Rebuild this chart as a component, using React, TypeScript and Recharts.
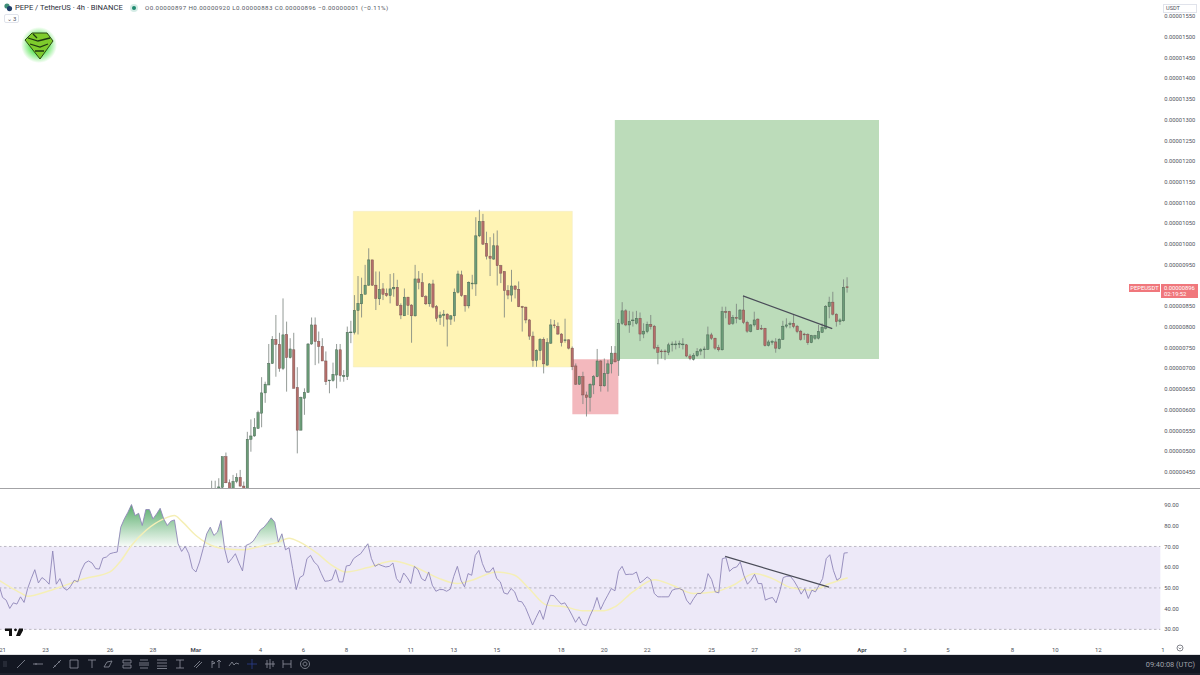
import {
  Area,
  Bar,
  ComposedChart,
  Line,
  ReferenceArea,
  ReferenceLine,
  XAxis,
  YAxis,
} from 'recharts';

const FONT = 'Roboto, "Liberation Sans", sans-serif';
const AXIS_TEXT = '#4f525c';
const SLOT_COUNT = 326;

// one slot per 4h candle, counted from one candle before Feb 21
const firstCandleSlot = 59;
const opens = [
  405, 408, 408, 413, 487, 424, 402, 427, 437, 416, 408, 529, 537, 555, 592, 641, 660, 712, 770, 758,
  700, 782, 726, 745, 654, 551, 628, 642, 759, 805, 765, 753, 718, 671, 671, 684, 745, 680, 680, 787,
  787, 840, 856, 879, 901, 962, 901, 868, 892, 881, 876, 892, 896, 852, 827, 872, 853, 827, 916, 907,
  873, 856, 904, 849, 823, 828, 831, 819, 827, 884, 926, 876, 851, 904, 904, 1020, 1055, 1002, 971, 964,
  996, 948, 934, 888, 877, 899, 891, 849, 848, 817, 778, 719, 743, 770, 708, 761, 805, 801, 783, 767,
  769, 749, 706, 662, 680, 636, 630, 660, 680, 718, 658, 688, 711, 737, 719, 809, 839, 805, 815, 809,
  821, 783, 789, 806, 802, 751, 742, 742, 739, 757, 757, 758, 757, 757, 730, 722, 731, 742, 745, 746,
  781, 773, 750, 745, 837, 837, 809, 823, 819, 841, 811, 789, 805, 819, 797, 797, 755, 763, 764, 748,
  770, 802, 806, 809, 802, 790, 783, 782, 762, 773, 773, 787, 797, 849, 860, 831, 813, 815, 897,
];
const highs = [
  429, 429, 435, 487, 497, 432, 443, 447, 455, 427, 547, 577, 580, 598, 679, 668, 759, 778, 829, 786,
  869, 813, 773, 786, 703, 632, 652, 761, 823, 823, 789, 773, 741, 672, 714, 759, 759, 696, 801, 815,
  877, 923, 919, 950, 990, 962, 934, 934, 906, 893, 928, 930, 914, 857, 893, 873, 855, 950, 935, 930,
  877, 906, 914, 853, 837, 841, 833, 829, 893, 936, 936, 877, 910, 926, 1065, 1083, 1073, 1030, 1017, 1026,
  1033, 950, 934, 901, 938, 901, 910, 851, 849, 819, 789, 746, 773, 775, 773, 819, 817, 811, 785, 820,
  770, 753, 712, 682, 692, 644, 664, 684, 747, 720, 724, 720, 754, 754, 819, 860, 843, 839, 837, 839,
  835, 809, 813, 829, 805, 757, 746, 746, 762, 765, 767, 767, 773, 759, 735, 737, 749, 749, 753, 801,
  786, 774, 757, 849, 849, 839, 829, 856, 843, 875, 815, 807, 837, 821, 805, 798, 769, 769, 773, 773,
  815, 821, 813, 831, 805, 793, 786, 785, 781, 781, 805, 809, 853, 873, 885, 833, 821, 915, 920,
];
const lows = [
  400, 398, 400, 405, 423, 400, 398, 423, 415, 400, 400, 499, 535, 555, 558, 617, 660, 711, 680, 692,
  696, 644, 724, 652, 495, 551, 588, 642, 757, 708, 712, 718, 660, 640, 668, 652, 668, 668, 672, 761,
  782, 782, 823, 879, 899, 899, 841, 853, 865, 873, 857, 873, 851, 819, 827, 829, 762, 825, 891, 872,
  853, 849, 845, 813, 805, 801, 753, 805, 813, 881, 873, 837, 845, 891, 875, 1017, 998, 963, 923, 962,
  900, 906, 823, 867, 861, 869, 848, 789, 809, 769, 704, 704, 720, 688, 707, 759, 797, 781, 753, 762,
  746, 696, 660, 660, 614, 584, 596, 638, 679, 644, 656, 644, 688, 714, 682, 805, 802, 786, 801, 806,
  766, 773, 785, 794, 746, 710, 724, 720, 732, 741, 746, 749, 746, 727, 720, 719, 728, 732, 724, 745,
  769, 745, 741, 743, 821, 805, 805, 809, 817, 807, 786, 787, 801, 793, 793, 753, 753, 757, 738, 746,
  769, 797, 797, 797, 785, 767, 769, 757, 761, 769, 770, 786, 794, 821, 828, 801, 805, 813, 883,
];
const closes = [
  408, 406, 414, 487, 424, 405, 427, 437, 416, 408, 529, 537, 557, 593, 641, 662, 712, 770, 758, 700,
  781, 726, 747, 652, 551, 630, 642, 759, 805, 765, 753, 718, 668, 672, 686, 745, 683, 683, 787, 788,
  840, 857, 879, 901, 962, 901, 869, 891, 879, 876, 892, 896, 852, 829, 872, 852, 827, 916, 908, 873,
  856, 904, 848, 821, 829, 831, 819, 827, 884, 928, 876, 851, 908, 906, 1020, 1055, 1000, 971, 966, 996,
  948, 930, 888, 877, 899, 891, 849, 848, 817, 778, 719, 743, 770, 711, 762, 805, 803, 783, 762, 769,
  749, 704, 662, 680, 636, 630, 662, 680, 718, 658, 688, 711, 737, 716, 809, 839, 805, 813, 817, 821,
  783, 790, 806, 801, 749, 739, 741, 741, 757, 759, 759, 760, 759, 730, 724, 732, 741, 745, 747, 781,
  773, 749, 745, 837, 835, 807, 823, 821, 841, 811, 790, 805, 817, 794, 795, 755, 764, 765, 749, 770,
  802, 805, 808, 801, 789, 770, 781, 762, 779, 779, 789, 799, 849, 860, 831, 813, 817, 896, 896,
];

const rsiValues = [
  51.3, 45.4, 44.1, 40.1, 42.8, 42.2, 45.7, 43, 49.7, 54.5, 58.8, 52.4, 55, 53.7, 51.8, 67.8, 51.8, 54.5, 50, 48.9,
  50.8, 53.7, 52.9, 58.5, 62, 63, 62, 59.3, 59.1, 64.4, 64.9, 66.5, 67, 67.3, 79.3, 83.3, 86.5, 90.2, 84.9, 86,
  80.1, 87.8, 87.8, 83.3, 85.7, 88.4, 83.3, 80.1, 82.2, 82.8, 71.3, 67.6, 70, 66.5, 59.3, 57.7, 62.5, 68.9, 76.1, 79.3,
  75.3, 76.9, 82.5, 68.9, 62, 64.1, 66.5, 62, 58.2, 70.5, 71.3, 72.6, 75.3, 78, 79.3, 81.4, 83.8, 81.7, 72.1, 76.1,
  68.4, 69.4, 59.3, 49.2, 55, 56.1, 64.1, 65.7, 62.5, 60.9, 56.9, 53.2, 53.4, 54, 58.8, 52.9, 52.9, 60.6, 60.9, 64.1,
  65.4, 66.5, 68.9, 71.3, 64.1, 60.4, 61.4, 60.7, 60.1, 60.4, 62, 54.5, 52.4, 57.2, 55, 52.1, 60.4, 58.8, 54.5, 53.4,
  57.7, 51.3, 48.4, 49.2, 49.2, 48.4, 49.4, 55.6, 60.4, 53.7, 50.5, 56.9, 56.1, 65.7, 68.1, 61.7, 57.7, 57.7, 59.8, 54.5,
  52.9, 47.6, 47, 49.7, 48.1, 43.6, 43.3, 40.6, 36.4, 32.1, 35.8, 39.3, 34.8, 41.7, 46.5, 46.2, 44.1, 42.2, 42.8, 40.1,
  36.9, 33.4, 36.1, 32.4, 31.8, 36.4, 40.1, 45.4, 39.6, 43.3, 46.5, 49.7, 48.6, 58, 60.4, 56.4, 56.6, 56.6, 57.7, 52.4,
  53.7, 55.3, 54, 47.3, 45.7, 45.7, 45.7, 45.7, 48.9, 49.5, 49.7, 48.9, 44.1, 42, 44.9, 47.3, 47.3, 49.2, 56.9, 54,
  48.1, 47.6, 64.1, 64.6, 58, 59.6, 60.1, 62.5, 56.1, 51.8, 53.7, 56.6, 52.1, 52.1, 44.1, 44.9, 45.4, 42.8, 48.1, 55,
  55.6, 55.6, 53.4, 50.5, 47, 49.7, 44.9, 48.9, 48.1, 51.3, 54.5, 64.1, 66, 58.5, 53.7, 55, 66.8, 67,
];

// moving average of the RSI, read at the slots where its shape turns
const rsiMaSlots = [
  0, 3, 6, 8, 14, 19, 24, 31, 34, 37, 41, 46, 49, 51, 55, 58, 63, 68, 74, 78, 81, 84, 89, 93, 97, 103,
  110, 115, 120, 123, 128, 132, 139, 144, 148, 153, 158, 163, 169, 172, 177, 183, 188, 194, 200, 205, 211,
  216, 221, 227, 232, 237,
];
const rsiMaValues = [
  53.7, 50.5, 47.6, 46, 48.6, 51.6, 54.5, 57.7, 63, 70.5, 77.7, 83.3, 84.9, 82.2, 75.3, 71.6, 68.9, 68.4, 70.5, 72.1,
  74, 72.1, 66.5, 60.9, 57.7, 59.8, 63, 60.9, 56.9, 54.5, 52.1, 53.7, 57.7, 56.1, 49.7, 41.7, 40.9, 39, 39, 40.9, 48.1,
  54, 51.3, 47.3, 48.1, 51.3, 56.9, 54.5, 50.2, 48.9, 52.1, 54.9,
];

const priceTicks = [
  450, 500, 550, 600, 650, 700, 750, 800, 850, 900, 950, 1000, 1050, 1100, 1150, 1200, 1250, 1300, 1350, 1400, 1450,
  1500, 1550,
];
const rsiTicks = [30, 40, 50, 60, 70, 80, 90];
const rsiLevels = [30, 50, 70];
const timeSlots = [1, 13, 31, 43, 55, 73, 85, 97, 115, 127, 139, 157, 169, 181, 199, 211, 223, 241, 253, 265, 283, 295, 307, 325];
const timeLabels = ['21', '23', '26', '28', 'Mar', '4', '6', '8', '11', '13', '15', '18', '20', '22', '25', '27', '29', 'Apr', '3', '5', '8', '10', '12', '1'];

const rows = Array.from({ length: SLOT_COUNT }, (_, slot) => {
  const c = slot - firstCandleSlot;
  const maIndex = rsiMaSlots.indexOf(slot);
  const rsi = rsiValues[slot];
  return {
    slot,
    open: opens[c],
    high: highs[c],
    low: lows[c],
    close: closes[c],
    rsi,
    rsiMa: maIndex >= 0 ? rsiMaValues[maIndex] : null,
    overbought: rsi === undefined ? null : [70, Math.max(rsi, 70)],
  };
});

function Candle(props: any) {
  const { x, y, width, height, payload } = props;
  if (payload.open === undefined || !height) return null;
  const perUnit = height / (payload.high - payload.low);
  const up = payload.close >= payload.open;
  const top = y + (payload.high - Math.max(payload.open, payload.close)) * perUnit;
  const bottom = y + (payload.high - Math.min(payload.open, payload.close)) * perUnit;
  const mid = x + width / 2;
  return (
    <g>
      <line x1={mid} x2={mid} y1={y} y2={y + height} stroke="#79827c" strokeWidth={0.8} />
      <rect
        x={mid - 1.15}
        y={top}
        width={2.3}
        height={Math.max(bottom - top, 0.8)}
        fill={up ? '#6c9c78' : '#b56e6a'}
        stroke={up ? '#44614e' : '#74504d'}
        strokeWidth={0.45}
      />
    </g>
  );
}

function TimeTick({ x, y, payload }: any) {
  const label = timeLabels[timeSlots.indexOf(payload.value)];
  const bold = label === 'Mar' || label === 'Apr';
  return (
    <text x={x} y={y + 10} textAnchor="middle" fontSize={6} fontFamily={FONT} fontWeight={bold ? 700 : 400} fill={AXIS_TEXT}>
      {label}
    </text>
  );
}

const toolX = [21, 38, 57, 74, 92, 108, 127, 144, 162, 180, 198, 216, 234, 252, 270, 287, 305];
const toolPaths = [
  'M1 9 L9 1',
  'M0 5 H10 M3 4 v2',
  'M1 9 L9 1 M2 7 h2 M6 3 h2',
  'M1 1 H9 V9 H1 Z',
  'M1 1 H9 M5 1 V9',
  'M1 8 H6 L9 2 L4 3 Z',
  'M1 1 H9 V4 H1 Z M1 6 H9 V9 H1 Z',
  'M1 1 H9 M0 4 H10 M0 6 H10 M1 9 H9',
  'M0 1 H10 M0 4 H10 M0 7 H10 M0 9.5 H10',
  'M1 1 H9 M5 1 V9 M1 9 H9',
  'M1 8 L7 2 M3 9 L9 3',
  'M1 9 V2 L4 4 L1 5 M8 9 V1 M6 3 L8 1 L10 3',
  'M0 7 L3 3 L5 6 L7 4 L10 5',
  'M5 0 V10 M0 5 H10',
  'M2 1 V9 M5 0 V10 M8 2 V8 M0 5 H10',
  'M1 1 V9 M9 1 V9 M1 5 H9',
  'M5 0.5 A4.5 4.5 0 1 0 5.01 0.5 M5 3 A2 2 0 1 0 5.01 3',
];

function Toolbar() {
  return (
    <div style={{ position: 'absolute', left: 0, top: 655, width: 1200, height: 20, background: '#131722' }}>
      <div style={{ position: 'absolute', left: 0, top: 18, width: 1200, height: 2, background: '#1e222d' }} />
      <svg width={330} height={18} style={{ position: 'absolute', left: 0, top: 0 }}>
        <path d="M4 6 v6 M6 6 v6" stroke="#3a3e4a" strokeWidth={1} />
        {toolX.map((x, i) => (
          <path
            key={x}
            d={toolPaths[i]}
            transform={`translate(${x - 5} 4)`}
            fill="none"
            stroke={i === 13 ? '#2b3f8f' : '#8f939e'}
            strokeWidth={0.8}
          />
        ))}
      </svg>
      <div style={{ position: 'absolute', right: 5, top: 5, fontFamily: FONT, fontSize: 7.4, color: '#a0a3ab' }}>
        09:40:08 (UTC)
      </div>
    </div>
  );
}

function Header() {
  return (
    <>
      <svg width={60} height={70} style={{ position: 'absolute', left: 0, top: 0 }}>
        <defs>
          <radialGradient id="logo-glow">
            <stop offset="40%" stopColor="#3de03a" stopOpacity={0.9} />
            <stop offset="100%" stopColor="#3de03a" stopOpacity={0} />
          </radialGradient>
        </defs>
        <circle cx={7} cy={6} r={2.6} fill="#3f8f78" />
        <circle cx={9.5} cy={8.6} r={2.6} fill="#1f3f6a" />
        <circle cx={39} cy={45} r={18} fill="url(#logo-glow)" />
        <path d="M32 33 H47 L53 41 L40 59 L25 40 Z" fill="#7ecb2c" stroke="#2c4a16" strokeWidth={1} />
        <path d="M28 38 L38 41 L50 38 M30 44 L40 47 L48 44 M35 51 H44 M33 34 L37 38" stroke="#1f3a12" strokeWidth={1.3} fill="none" />
      </svg>
      <div style={{ position: 'absolute', left: 15, top: 2.5, fontFamily: FONT, fontSize: 7.6, color: '#2a2e39', whiteSpace: 'nowrap' }}>
        PEPE / TetherUS · 4h · BINANCE
      </div>
      <svg width={10} height={10} style={{ position: 'absolute', left: 128.5, top: 2.5 }}>
        <circle cx={5} cy={5} r={4} fill="#d5ece6" />
        <circle cx={5} cy={5} r={2} fill="#1f8a70" />
      </svg>
      <div style={{ position: 'absolute', left: 145, top: 3.5, fontFamily: FONT, fontSize: 6.2, color: '#555963', whiteSpace: 'nowrap', letterSpacing: 0.4 }}>
        O0.00000897 H0.00000920 L0.00000883 C0.00000896 −0.00000001 (−0.11%)
      </div>
      <div
        style={{
          position: 'absolute',
          left: 4,
          top: 14,
          width: 15,
          height: 9,
          boxSizing: 'border-box',
          border: '1px solid #e0e3eb',
          borderRadius: 2,
          fontFamily: FONT,
          fontSize: 6,
          lineHeight: '7px',
          color: '#4f525c',
          textAlign: 'center',
        }}
      >
        ⌄ 3
      </div>
      <div
        style={{
          position: 'absolute',
          left: 1163,
          top: 4,
          width: 34,
          height: 9,
          background: '#fff',
          border: '1px solid #e0e3eb',
          fontFamily: FONT,
          fontSize: 5.6,
          lineHeight: '7px',
          color: '#4f525c',
          paddingLeft: 2,
          boxSizing: 'border-box',
        }}
      >
        USDT
      </div>
    </>
  );
}

function PriceLabel() {
  const base = {
    position: 'absolute' as const,
    background: '#f0777c',
    color: '#fff',
    fontFamily: FONT,
    fontSize: 5.8,
    whiteSpace: 'nowrap' as const,
  };
  return (
    <>
      <div style={{ ...base, left: 1129, top: 284, width: 31, height: 8, lineHeight: '8px', textAlign: 'center' }}>PEPEUSDT</div>
      <div style={{ ...base, left: 1161, top: 284, width: 37, height: 13.5, lineHeight: '6.6px', paddingLeft: 3, boxSizing: 'border-box', paddingTop: 0.5 }}>
        0.00000896
        <br />
        02:19:52
      </div>
    </>
  );
}

function TvLogo() {
  return (
    <svg width={18} height={10} style={{ position: 'absolute', left: 5, top: 627 }}>
      <path d="M0 1.5 H7 V9 H4 V4 H0 Z M10.5 1.5 A1.4 1.4 0 1 1 10.49 1.5 M14 1.5 H19 L15 9 H11 Z" fill="#111" />
    </svg>
  );
}

export default function App() {
  return (
    <div style={{ position: 'absolute', left: 0, top: 0, width: 1200, height: 675, overflow: 'hidden', background: '#fff' }}>
      <div style={{ position: 'absolute', left: -1, top: 0 }}>
        <ComposedChart width={1201} height={488} data={rows} margin={{ top: 0, right: 0, bottom: 0, left: 0 }} barCategoryGap={0}>
          <XAxis xAxisId="slot" dataKey="slot" type="category" hide />
          <XAxis xAxisId="pos" dataKey="slot" orientation="top" height={0} type="number" domain={[0, SLOT_COUNT]} ticks={[0, SLOT_COUNT]} hide allowDataOverflow />
          <YAxis
            orientation="right"
            width={37.18}
            domain={[411.4, 1589.3]}
            allowDataOverflow
            ticks={priceTicks}
            interval={0}
            tickLine={false}
            axisLine={false}
            tickSize={0}
            tickMargin={1.5}
            tickFormatter={(v: number) => (v / 1e8).toFixed(8)}
            tick={{ fontSize: 5.8, fontFamily: FONT, fill: AXIS_TEXT, textAnchor: 'start' }}
          />
          <ReferenceArea xAxisId="pos" x1={99.24} x2={160.6} y1={703.5} y2={1079.3} fill="#fff4b5" fillOpacity={1} stroke="#f1ebc4" strokeWidth={0.5} />
          <ReferenceArea xAxisId="pos" x1={160.6} x2={173.5} y1={589.3} y2={722} fill="#f3b8bd" fillOpacity={1} stroke="none" />
          <ReferenceArea xAxisId="pos" x1={172.5} x2={246.5} y1={722.8} y2={1299.7} fill="#bcdcba" fillOpacity={1} stroke="none" />
          <Bar xAxisId="slot" dataKey={(d: any) => (d.open === undefined ? null : [d.low, d.high])} shape={<Candle />} isAnimationActive={false} />
          <ReferenceLine
            xAxisId="pos"
            segment={[
              { x: 208.4, y: 875 },
              { x: 233.4, y: 796 },
            ]}
            stroke="#4a4c58"
            strokeWidth={1.2}
          />
        </ComposedChart>
      </div>
      <div style={{ position: 'absolute', left: 0, top: 488, width: 1200, height: 1, background: '#a3a3a6' }} />
      <div style={{ position: 'absolute', left: -1, top: 490 }}>
        <ComposedChart width={1201} height={165} data={rows} margin={{ top: 0, right: 0, bottom: 0, left: 0 }}>
          <defs>
            <linearGradient id="rsi-overbought" x1="0" x2="0" y1="0" y2="1">
              <stop offset="0%" stopColor="#4ea862" stopOpacity={0.95} />
              <stop offset="100%" stopColor="#4ea862" stopOpacity={0.04} />
            </linearGradient>
          </defs>
          <XAxis
            xAxisId="slot"
            dataKey="slot"
            type="category"
            ticks={timeSlots}
            interval={0}
            height={15}
            tickLine={false}
            axisLine={false}
            tickSize={0}
            tick={<TimeTick />}
          />
          <XAxis xAxisId="pos" dataKey="slot" orientation="top" height={0} type="number" domain={[0, SLOT_COUNT]} ticks={[0, SLOT_COUNT]} hide allowDataOverflow />
          <YAxis
            orientation="right"
            width={37.18}
            domain={[24.88, 97.23]}
            allowDataOverflow
            ticks={rsiTicks}
            interval={0}
            tickLine={false}
            axisLine={false}
            tickSize={0}
            tickMargin={1.5}
            tickFormatter={(v: number) => v.toFixed(2)}
            tick={{ fontSize: 5.8, fontFamily: FONT, fill: AXIS_TEXT, textAnchor: 'start' }}
          />
          <ReferenceArea xAxisId="pos" x1={0} x2={325.3} y1={30} y2={70} fill="#ede9f8" fillOpacity={1} stroke="none" />
          {rsiLevels.map((level) => (
            <ReferenceLine
              key={level}
              xAxisId="pos"
              segment={[
                { x: 0, y: level },
                { x: 325.3, y: level },
              ]}
              stroke="#a3a0ae"
              strokeWidth={0.7}
              strokeDasharray="2.5 2.5"
            />
          ))}
          <Area xAxisId="slot" dataKey="overbought" stroke="none" fill="url(#rsi-overbought)" fillOpacity={1} isAnimationActive={false} dot={false} activeDot={false} />
          <Line xAxisId="slot" dataKey="rsiMa" type="monotone" connectNulls stroke="#f5efb6" strokeWidth={1.5} dot={false} activeDot={false} isAnimationActive={false} />
          <Line xAxisId="slot" dataKey="rsi" type="linear" stroke="#8f86b8" strokeWidth={0.9} dot={false} activeDot={false} isAnimationActive={false} />
          <ReferenceLine
            xAxisId="pos"
            segment={[
              { x: 203.4, y: 65.2 },
              { x: 232.5, y: 50.4 },
            ]}
            stroke="#4a4c58"
            strokeWidth={1.2}
          />
        </ComposedChart>
      </div>
      <svg width={1200} height={1} style={{ position: 'absolute', left: 0, top: 654 }}>
        <rect width={1200} height={1} fill="#dfe0e3" />
      </svg>
      <TvLogo />
      <svg width={12} height={12} style={{ position: 'absolute', left: 1174, top: 642 }}>
        <circle cx={6} cy={6} r={3} fill="none" stroke="#50535e" strokeWidth={0.7} />
        <path d="M4.6 5.6 L6 7 L7.4 5.6" fill="none" stroke="#50535e" strokeWidth={0.6} />
      </svg>
      <Header />
      <PriceLabel />
      <Toolbar />
    </div>
  );
}
